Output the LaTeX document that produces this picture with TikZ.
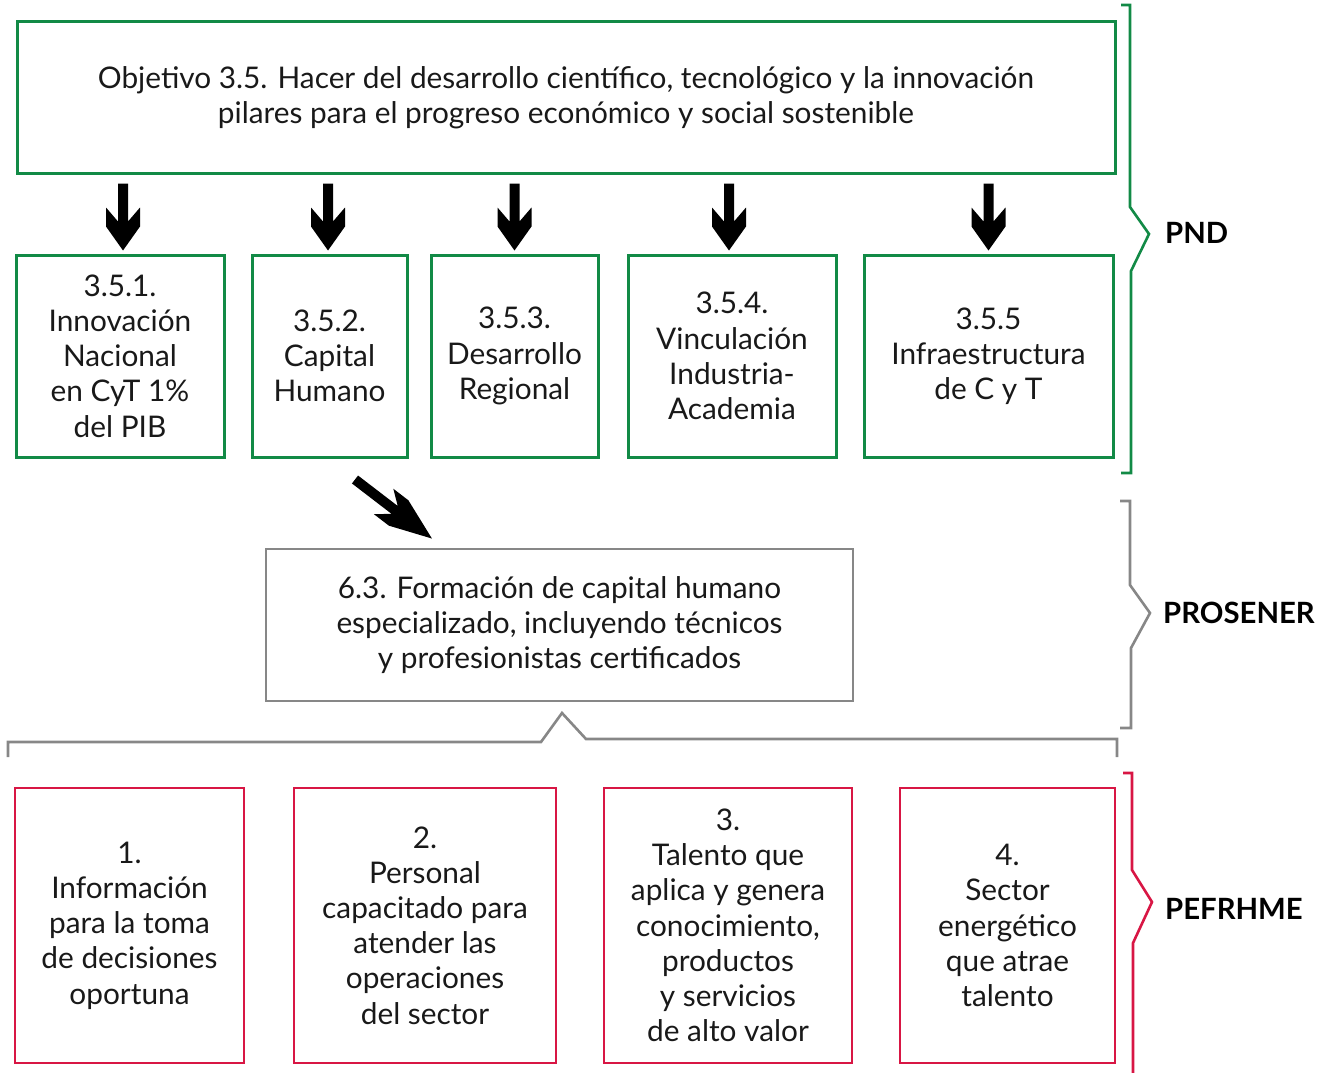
\documentclass[tikz,border=0pt]{standalone}
\usepackage{fontspec}
\setmainfont{Lato}
\usetikzlibrary{calc}
\definecolor{pgreen}{RGB}{18,138,70}
\definecolor{pgray}{RGB}{135,135,135}
\definecolor{pred}{RGB}{216,22,68}
\definecolor{ptext}{RGB}{25,25,25}
\begin{document}
\begin{tikzpicture}[x=1pt,y=-1pt,
  every node/.style={font=\fontsize{29.8}{35.2}\selectfont, align=center, inner sep=0pt, text=ptext},
  gbox/.style={draw=pgreen, line width=3pt},
  graybox/.style={draw=pgray, line width=2.6pt},
  rbox/.style={draw=pred, line width=2.6pt},
  brk/.style={line width=2.6pt, line join=miter},
  lbl/.style={font=\fontsize{29.3}{35}\selectfont\bfseries, anchor=west, text=black},
  dnarrow/.pic={\fill[black] (-5,0) -- (5,0) -- (5,38) -- (17,24) -- (17,43) -- (0,67) -- (-17,43) -- (-17,24) -- (-5,38) -- cycle;},
  diagarrow/.pic={\fill[black] (0,-5) -- (50,-5) -- (36,-16) -- (55,-16) -- (97,0) -- (55,16) -- (36,16) -- (50,5) -- (0,5) -- cycle;}
]
\useasboundingbox (0,0) rectangle (1328,1073);

% top objective
\node[gbox, minimum width=1098pt, minimum height=151pt] (obj) at (566,97.5)
  {Objetivo 3.5. Hacer del desarrollo científico, tecnológico y la innovación\\pilares para el progreso económico y social sostenible};

% second row
\node[gbox, minimum width=208pt, minimum height=202pt] (a1) at (120,356)
  {3.5.1.\\Innovación\\Nacional\\en CyT 1\%\\del PIB};
\node[gbox, minimum width=155pt, minimum height=202pt] (a2) at (329.5,356)
  {3.5.2.\\Capital\\Humano};
\node[gbox, minimum width=167pt, minimum height=202pt] (a3) at (514.5,356)
  {3.5.3.\\Desarrollo\\Regional};
\node[gbox, minimum width=208pt, minimum height=202pt] (a4) at (732,356)
  {3.5.4.\\Vinculación\\Industria-\\Academia};
\node[gbox, minimum width=249pt, minimum height=202pt] (a5) at (988.5,356)
  {3.5.5\\Infraestructura\\de C y T};

% down arrows
\pic at ($(obj.south -| a1.north)+(3,9)$) {dnarrow};
\pic at ($(obj.south -| a2.north)+(-1.5,9)$) {dnarrow};
\pic at ($(obj.south -| a3.north)+(0,9)$) {dnarrow};
\pic at ($(obj.south -| a4.north)+(-3,9)$) {dnarrow};
\pic at ($(obj.south -| a5.north)+(0,9)$) {dnarrow};

% middle box
\node[graybox, minimum width=587pt, minimum height=152pt] (mid) at (559.5,625)
  {6.3. Formación de capital humano\\especializado, incluyendo técnicos\\y profesionistas certificados};

% diagonal arrow
\pic[rotate=-37.5] at ($(a2.south)+(25.5,21)$) {diagarrow};

% bottom row
\node[rbox, minimum width=229pt, minimum height=275pt] (b1) at (129.5,925.5)
  {1.\\Información\\para la toma\\de decisiones\\oportuna};
\node[rbox, minimum width=262pt, minimum height=275pt] (b2) at (425,925.5)
  {2.\\Personal\\capacitado para\\atender las\\operaciones\\del sector};
\node[rbox, minimum width=248pt, minimum height=275pt] (b3) at (728,925.5)
  {3.\\Talento que\\aplica y genera\\conocimiento,\\productos\\y servicios\\de alto valor};
\node[rbox, minimum width=215pt, minimum height=275pt] (b4) at (1007.5,925.5)
  {4.\\Sector\\energético\\que atrae\\talento};

% brackets
\draw[brk, pgreen] (1121,5) -- (1130,5) -- (1130,207) -- (1149,234) -- (1131,271) -- (1131,473) -- (1121,473);
\draw[brk, pgray] (1120,501) -- (1130,501) -- (1130,585) -- (1150,613) -- (1131,648) -- (1131,728) -- (1120,728);
\draw[brk, pgray] (8,757) -- (8,742) -- (541,742) -- (562,713) -- (586,739) -- (1117,739) -- (1117,757);
\draw[brk, pred] (1123,773) -- (1132,773) -- (1132,870) -- (1152,902) -- (1133,943) -- (1133,1075);

% labels
\node[lbl] (pnd) at (1165,233) {PND};
\node[lbl] (prosener) at (1163,613) {PROSENER};
\node[lbl] (pefrhme) at (1165,909) {PEFRHME};
\end{tikzpicture}
\end{document}
